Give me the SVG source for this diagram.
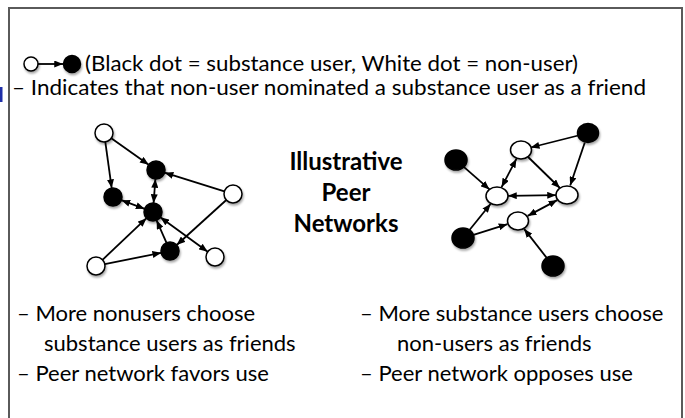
<svg xmlns="http://www.w3.org/2000/svg" width="685" height="418" viewBox="0 0 685 418">
<defs>
<marker id="ah" viewBox="0 0 10 8" refX="10" refY="4" markerWidth="9" markerHeight="7" markerUnits="userSpaceOnUse" orient="auto-start-reverse"><path d="M0,0 L10,4 L0,8 Z" fill="#000"/></marker>
<filter id="sh" x="-50%" y="-50%" width="200%" height="200%"><feDropShadow dx="1" dy="2" stdDeviation="1" flood-color="#000" flood-opacity="0.35"/></filter>
</defs>
<style>
.t{font-family:Lato,"Liberation Sans",sans-serif;font-size:21px;fill:#000}
.c{font-family:Lato,"Liberation Sans",sans-serif;font-size:22px;fill:#000}
.b{font-family:Lato,"Liberation Sans",sans-serif;font-size:24px;font-weight:bold;fill:#000;text-anchor:middle}
.e{stroke:#000;stroke-width:1.8;fill:none}
.w{fill:#fff;stroke:#000;stroke-width:1.5;filter:url(#sh)}
.k{fill:#000;stroke:#000;stroke-width:1.5;filter:url(#sh)}
</style>
<rect x="0" y="0" width="685" height="418" fill="#fff"/>
<rect x="0" y="87" width="2.5" height="15" fill="#1f2fa8"/>
<rect x="9" y="8" width="673" height="420" fill="none" stroke="#5a5a5a" stroke-width="2"/>
<g id="legend">
<circle class="w" cx="31" cy="64" r="7"/>
<line class="e" x1="38" y1="64" x2="63" y2="64" marker-end="url(#ah)"/>
<circle class="k" cx="72" cy="64" r="8.5"/>
<text class="t" x="85" y="71" textLength="493" lengthAdjust="spacingAndGlyphs">(Black dot = substance user, White dot = non-user)</text>
<text class="t" x="12" y="95" textLength="634" lengthAdjust="spacingAndGlyphs">– Indicates that non-user nominated a substance user as a friend</text>
</g>
<g id="connectors">
<line class="e" x1="105.3" y1="141.9" x2="111.7" y2="188.1" marker-end="url(#ah)"/>
<line class="e" x1="111.3" y1="138.2" x2="148.7" y2="164.8" marker-end="url(#ah)"/>
<line class="e" x1="224.4" y1="191.3" x2="164.6" y2="172.7" marker-end="url(#ah)"/>
<line class="e" x1="155.4" y1="179" x2="153.6" y2="203" marker-start="url(#ah)" marker-end="url(#ah)"/>
<line class="e" x1="121.4" y1="200.2" x2="144.6" y2="208.8" marker-start="url(#ah)" marker-end="url(#ah)"/>
<line class="e" x1="102.5" y1="259.8" x2="146.5" y2="218.2" marker-end="url(#ah)"/>
<line class="e" x1="104.8" y1="264.2" x2="161.2" y2="252.8" marker-end="url(#ah)"/>
<line class="e" x1="166.4" y1="242.7" x2="156.6" y2="220.3" marker-end="url(#ah)"/>
<line class="e" x1="226.3" y1="200" x2="176.7" y2="245" marker-end="url(#ah)"/>
<line class="e" x1="160.3" y1="217.3" x2="207.7" y2="251.7" marker-start="url(#ah)" marker-end="url(#ah)"/>
<line class="e" x1="578.3" y1="135.5" x2="530.7" y2="147.5" marker-end="url(#ah)"/>
<line class="e" x1="584.8" y1="142.5" x2="570.2" y2="185.5" marker-end="url(#ah)"/>
<line class="e" x1="528.1" y1="157" x2="559.9" y2="188" marker-end="url(#ah)"/>
<line class="e" x1="516.4" y1="158.9" x2="501.6" y2="187.1" marker-start="url(#ah)" marker-end="url(#ah)"/>
<line class="e" x1="463.5" y1="166.6" x2="489.5" y2="189.4" marker-end="url(#ah)"/>
<line class="e" x1="508" y1="195.8" x2="556" y2="195.2" marker-start="url(#ah)" marker-end="url(#ah)"/>
<line class="e" x1="469.3" y1="230.2" x2="490.7" y2="203.8" marker-end="url(#ah)"/>
<line class="e" x1="473.5" y1="234.8" x2="507.5" y2="224.2" marker-end="url(#ah)"/>
<line class="e" x1="527.7" y1="215.9" x2="557.3" y2="200.1" marker-start="url(#ah)" marker-end="url(#ah)"/>
<line class="e" x1="546.9" y1="258.1" x2="524.1" y2="228.9" marker-end="url(#ah)"/>
</g>
<g id="left-network">
<circle id="L1" class="w" cx="104" cy="133" r="9"/>
<circle id="L2" class="k" cx="156" cy="170" r="9"/>
<circle id="L3" class="k" cx="113" cy="197" r="9"/>
<circle id="L4" class="k" cx="153" cy="212" r="9"/>
<circle id="L5" class="w" cx="233" cy="194" r="9"/>
<circle id="L6" class="k" cx="170" cy="251" r="9"/>
<circle id="L7" class="w" cx="96" cy="266" r="9"/>
<circle id="L8" class="w" cx="215" cy="257" r="9"/>
</g>
<g id="right-network">
<ellipse id="R1" class="w" cx="521" cy="150" rx="10.5" ry="9"/>
<ellipse id="R2" class="k" cx="588" cy="133" rx="10.5" ry="9.5"/>
<ellipse id="R3" class="k" cx="456" cy="160" rx="11" ry="10"/>
<ellipse id="R4" class="w" cx="497" cy="196" rx="11" ry="9"/>
<ellipse id="R5" class="w" cx="567" cy="195" rx="11" ry="9"/>
<ellipse id="R6" class="w" cx="518" cy="221" rx="10.5" ry="9"/>
<ellipse id="R7" class="k" cx="463" cy="238" rx="11" ry="10"/>
<ellipse id="R8" class="k" cx="553" cy="266" rx="11" ry="10"/>
</g>
<g id="title">
<text class="b" x="346" y="170">Illustrative</text>
<text class="b" x="346" y="201">Peer</text>
<text class="b" x="346" y="232">Networks</text>
</g>
<g id="captions">
<text class="c" x="17" y="321">– More nonusers choose</text>
<text class="c" x="44" y="351">substance users as friends</text>
<text class="c" x="17" y="381">– Peer network favors use</text>
<text class="c" x="360" y="321">– More substance users choose</text>
<text class="c" x="397" y="351">non-users as friends</text>
<text class="c" x="360" y="381">– Peer network opposes use</text>
</g>
</svg>
